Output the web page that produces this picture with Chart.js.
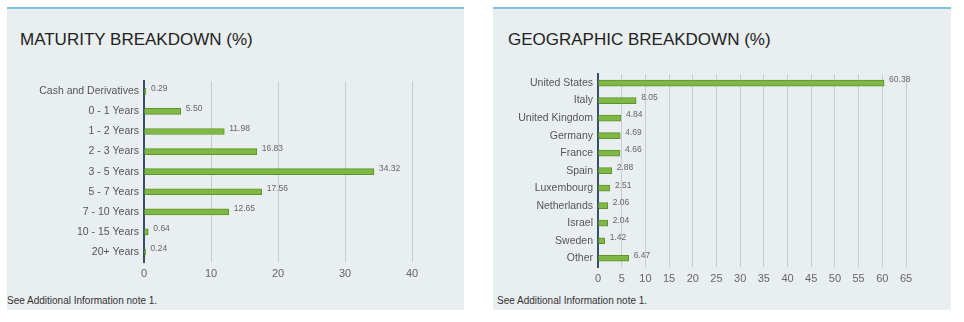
<!DOCTYPE html>
<html>
<head>
<meta charset="utf-8">
<script src="https://cdn.jsdelivr.net/npm/chart.js@4"></script>
<style>
  body { margin: 0; background: #fff; width: 964px; height: 322px; position: relative; overflow: hidden;
         font-family: "Liberation Sans", Arial, sans-serif; }
  .panel { position: absolute; top: 7px; height: 303px; background: #e9eef1; border-top: 2px solid #7fc3dc; box-sizing: border-box; }
  .title { position: absolute; top: 30px; font-size: 17px; color: #222; white-space: nowrap; }
  .note { position: absolute; top: 295px; font-size: 10px; color: #333; white-space: nowrap; }
  canvas { position: absolute; }
</style>
</head>
<body>
<div class="panel" style="left:7px; width:457px;"></div>
<div class="panel" style="left:493px; width:458px;"></div>
<div class="title" style="left:20px;">MATURITY BREAKDOWN (%)</div>
<div class="title" style="left:508px;">GEOGRAPHIC BREAKDOWN (%)</div>
<div class="note" style="left:7px;">See Additional Information note 1.</div>
<div class="note" style="left:497px;">See Additional Information note 1.</div>
<div style="position:absolute; left:7px; top:70px; width:457px; height:220px;"><canvas id="maturity"></canvas></div>
<div style="position:absolute; left:494px; top:63px; width:456px; height:227px;"><canvas id="geo"></canvas></div>
<script>
const maturityLabels = ['Cash and Derivatives', '0 - 1 Years', '1 - 2 Years', '2 - 3 Years', '3 - 5 Years',
    '5 - 7 Years', '7 - 10 Years', '10 - 15 Years', '20+ Years'];
const maturityValues = [0.29, 5.50, 11.98, 16.83, 34.32, 17.56, 12.65, 0.64, 0.24];

const geoLabels = ['United States', 'Italy', 'United Kingdom', 'Germany', 'France', 'Spain',
    'Luxembourg', 'Netherlands', 'Israel', 'Sweden', 'Other'];
const geoValues = [60.38, 8.05, 4.84, 4.69, 4.66, 2.88, 2.51, 2.06, 2.04, 1.42, 6.47];

// small value text at the end of each bar
const valueLabels = {
    id: 'valueLabels',
    afterDatasetsDraw(chart) {
        const ctx = chart.ctx;
        const meta = chart.getDatasetMeta(0);
        const data = chart.data.datasets[0].data;
        ctx.save();
        ctx.font = '8.5px "Liberation Sans", Arial, sans-serif';
        ctx.fillStyle = '#666';
        ctx.textAlign = 'left';
        ctx.textBaseline = 'middle';
        meta.data.forEach((bar, i) => {
            ctx.fillText(data[i].toFixed(2), bar.x + 5, bar.y - 3);
        });
        ctx.restore();
    }
};

function makeChart(id, labels, values, max, step, pad, yWidth, xHeight, tickPad) {
    return new Chart(document.getElementById(id), {
        type: 'bar',
        data: {
            labels: labels,
            datasets: [{
                data: values,
                backgroundColor: '#80b845',
                borderColor: '#5e9329',
                borderWidth: 1,
                borderSkipped: 'left',
                barThickness: 6
            }]
        },
        options: {
            indexAxis: 'y',
            responsive: true,
            maintainAspectRatio: false,
            animation: false,
            layout: { padding: pad },
            plugins: {
                legend: { display: false },
                tooltip: { enabled: false }
            },
            scales: {
                x: {
                    min: 0,
                    max: max,
                    ticks: {
                        stepSize: step,
                        padding: tickPad,
                        color: '#666',
                        font: { size: 11, family: '"Liberation Sans", Arial, sans-serif' }
                    },
                    grid: { color: '#c9cccf', drawTicks: false },
                    border: { display: false },
                    afterFit: s => { s.height = xHeight }
                },
                y: {
                    ticks: {
                        padding: 5,
                        color: '#555',
                        font: { size: 10.5, family: '"Liberation Sans", Arial, sans-serif' }
                    },
                    grid: { display: false, drawTicks: false },
                    border: { display: true, color: '#34506a', width: 2 },
                    afterFit: s => { s.width = yWidth }
                }
            }
        },
        plugins: [valueLabels]
    });
}

makeChart('maturity', maturityLabels, maturityValues, 40, 10,
    { top: 9, right: 52, left: 0, bottom: 0 }, 137, 28, 5);
makeChart('geo', geoLabels, geoValues, 65, 5,
    { top: 4, right: 44, left: 0, bottom: 0 }, 104, 23, 5);
</script>
</body>
</html>
